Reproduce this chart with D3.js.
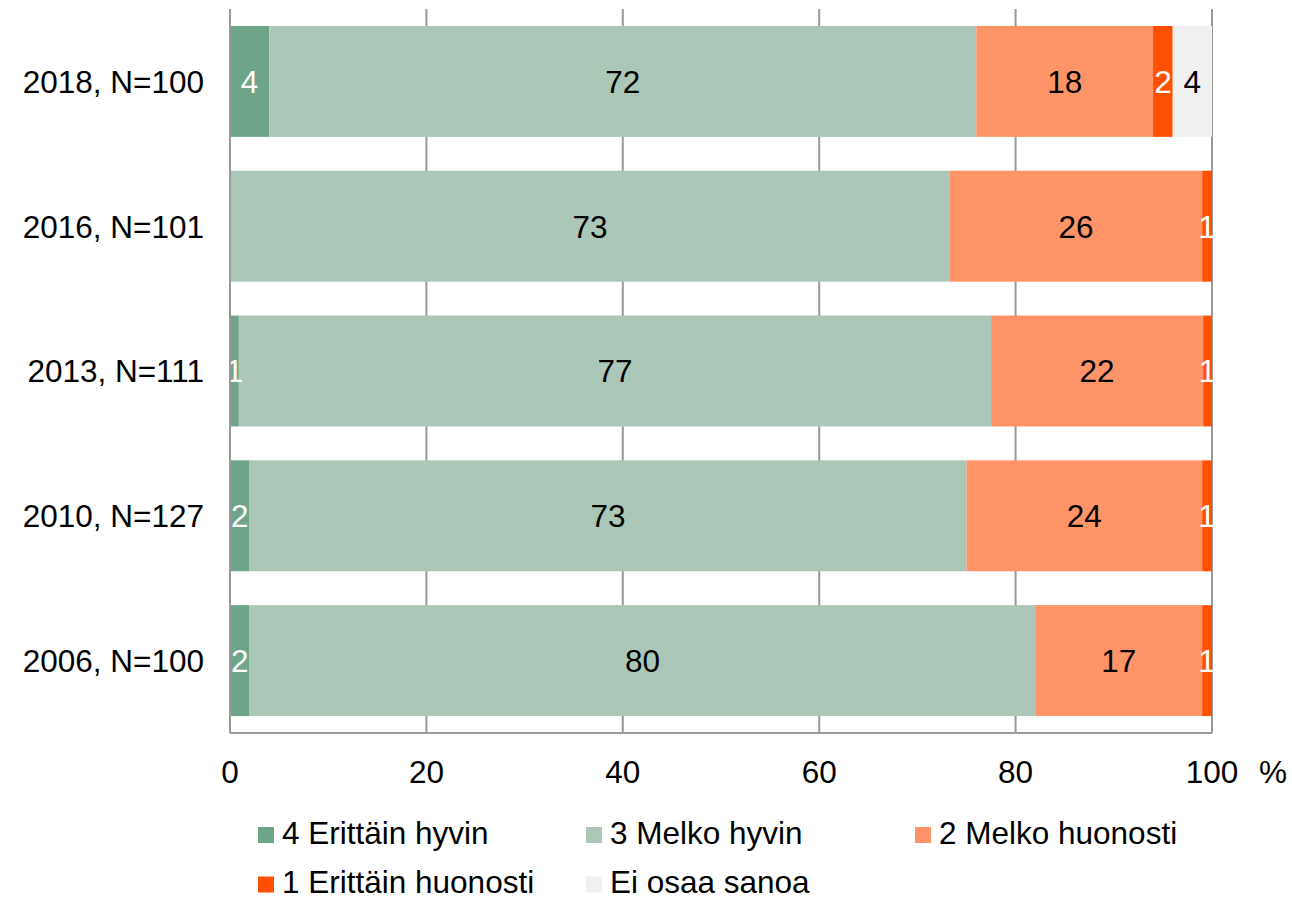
<!DOCTYPE html>
<html>
<head>
<meta charset="utf-8">
<script src="https://cdn.jsdelivr.net/npm/d3@7"></script>
<style>
  html, body { margin: 0; padding: 0; background: #fff; }
  svg { display: block; }
  text { font-family: "Liberation Sans", Arial, sans-serif; }
</style>
</head>
<body>
<svg id="chart" width="1292" height="900"></svg>
<script>
// ---- Data ----
const categories = ["2018, N=100", "2016, N=101", "2013, N=111", "2010, N=127", "2006, N=100"];
const seriesNames = ["4 Erittäin hyvin", "3 Melko hyvin", "2 Melko huonosti", "1 Erittäin huonosti", "Ei osaa sanoa"];
const erittainHyvin   = [4, 0,   0.9, 2,  2];
const melkoHyvin      = [72, 73.3, 76.6, 73, 80];
const melkoHuonosti   = [18, 25.7, 21.6, 24, 17];
const erittainHuonosti= [2, 1.0, 0.9, 1,  1];
const eiOsaaSanoa     = [4, 0,   0,   0,  0];
const xTicks = [0, 20, 40, 60, 80, 100];
const unitLabel = "%";

const seriesValues = [erittainHyvin, melkoHyvin, melkoHuonosti, erittainHuonosti, eiOsaaSanoa];
const colors = ["#6ea589", "#abc7b7", "#ff9468", "#ff5000", "#f0f0f0"];
const labelColors = ["#fff", "#000", "#000", "#fff", "#000"];

// ---- Layout ----
const svg = d3.select("#chart");
const mLeft = 230, mRight = 1212, mTop = 9, mBottom = 733;
const FONT = 31.5;

const x = d3.scaleLinear().domain([0, 100]).range([mLeft, mRight]);
const y = d3.scaleBand().domain(categories).range([mTop, mBottom]).paddingInner(0.234).paddingOuter(0.117);

// gridlines
svg.append("g").selectAll("line").data(xTicks.filter(t => t > 0)).join("line")
  .attr("x1", d => x(d)).attr("x2", d => x(d))
  .attr("y1", mTop).attr("y2", mBottom)
  .attr("stroke", "#9a9a9a").attr("stroke-width", 2);

// stacked data
const rows = categories.map((c, i) => {
  const o = { cat: c };
  seriesNames.forEach((s, j) => o[s] = seriesValues[j][i]);
  return o;
});
const stack = d3.stack().keys(seriesNames)(rows);

const g = svg.append("g");
stack.forEach((layer, j) => {
  g.append("g").selectAll("rect").data(layer).join("rect")
    .attr("x", d => x(d[0]))
    .attr("width", d => Math.max(0, x(d[1]) - x(d[0])))
    .attr("y", d => y(d.data.cat))
    .attr("height", y.bandwidth())
    .attr("fill", colors[j]);
});
stack.forEach((layer, j) => {
  g.append("g").selectAll("text").data(layer.filter(d => d[1] - d[0] > 0)).join("text")
    .attr("x", d => (x(d[0]) + x(d[1])) / 2)
    .attr("y", d => y(d.data.cat) + y.bandwidth() / 2)
    .attr("dy", "0.36em")
    .attr("text-anchor", "middle")
    .attr("font-size", FONT)
    .attr("fill", labelColors[j])
    .text(d => Math.round(d[1] - d[0]));
});

// axes lines
svg.append("line").attr("x1", mLeft).attr("x2", mLeft).attr("y1", mTop).attr("y2", mBottom)
  .attr("stroke", "#9a9a9a").attr("stroke-width", 2);
svg.append("line").attr("x1", mLeft).attr("x2", mRight).attr("y1", mBottom).attr("y2", mBottom)
  .attr("stroke", "#9a9a9a").attr("stroke-width", 2);

// category labels
svg.append("g").selectAll("text").data(categories).join("text")
  .attr("x", 204)
  .attr("y", d => y(d) + y.bandwidth() / 2)
  .attr("dy", "0.36em")
  .attr("text-anchor", "end")
  .attr("font-size", FONT)
  .attr("fill", "#000")
  .text(d => d);

// x tick labels
svg.append("g").selectAll("text").data(xTicks).join("text")
  .attr("x", d => x(d))
  .attr("y", 783)
  .attr("text-anchor", "middle")
  .attr("font-size", FONT)
  .attr("fill", "#000")
  .text(d => d);
svg.append("text").attr("x", 1273).attr("y", 783).attr("text-anchor", "middle")
  .attr("font-size", FONT).attr("fill", "#000").text(unitLabel);

// legend
const legendPos = [[258, 835], [586, 835], [915, 835], [258, 884.5], [586, 884.5]];
const lg = svg.append("g").selectAll("g").data(seriesNames).join("g")
  .attr("transform", (d, i) => `translate(${legendPos[i][0]},${legendPos[i][1]})`);
lg.append("rect").attr("x", 0).attr("y", -8).attr("width", 16).attr("height", 16)
  .attr("fill", (d, i) => colors[i]);
lg.append("text").attr("x", 24).attr("y", 8.5)
  .attr("font-size", FONT).attr("fill", "#000").text(d => d);
</script>
</body>
</html>
